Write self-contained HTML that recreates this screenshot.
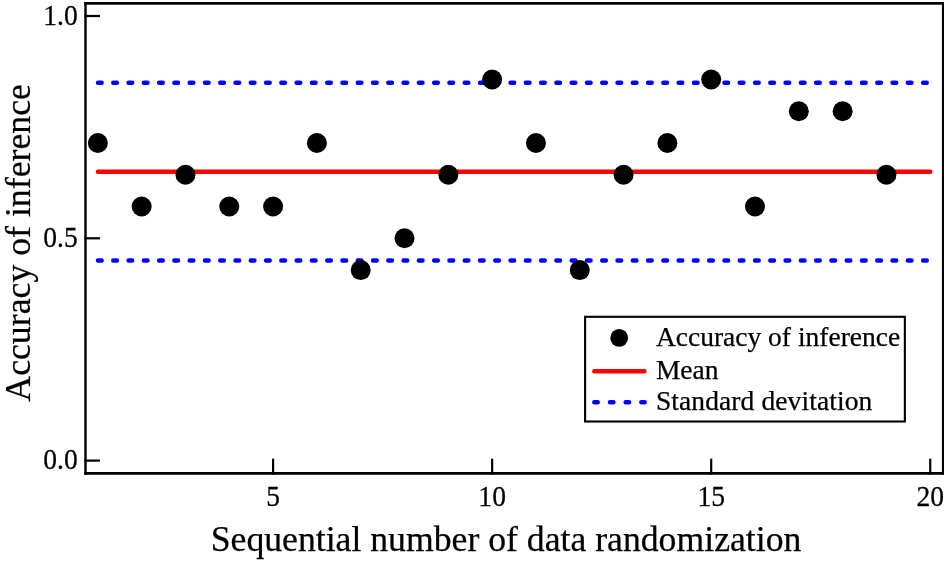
<!DOCTYPE html>
<html><head><meta charset="utf-8"><title>Accuracy of inference</title>
<style>
html,body{margin:0;padding:0;background:#fff;}
body{width:944px;height:562px;overflow:hidden;}
svg{display:block;}
text{font-family:"Liberation Serif","Times New Roman",serif;fill:#000;}
</style></head><body>
<svg width="944" height="562" viewBox="0 0 944 562">
<rect x="0" y="0" width="944" height="562" fill="#fff"/>
<line x1="98.00" y1="82.69" x2="930.24" y2="82.69" stroke="#0000ff" stroke-width="4.5" stroke-linecap="round" stroke-dasharray="3.6 11.68"/>
<line x1="98.00" y1="260.53" x2="930.24" y2="260.53" stroke="#0000ff" stroke-width="4.5" stroke-linecap="round" stroke-dasharray="3.6 11.68"/>
<line x1="98.00" y1="171.85" x2="930.24" y2="171.85" stroke="#ff0000" stroke-width="4.5" stroke-linecap="round"/>
<circle cx="97.85" cy="143.03" r="10" fill="#000"/>
<circle cx="141.66" cy="206.54" r="10" fill="#000"/>
<circle cx="185.47" cy="174.79" r="10" fill="#000"/>
<circle cx="229.28" cy="206.54" r="10" fill="#000"/>
<circle cx="273.09" cy="206.54" r="10" fill="#000"/>
<circle cx="316.90" cy="143.03" r="10" fill="#000"/>
<circle cx="360.71" cy="270.06" r="10" fill="#000"/>
<circle cx="404.52" cy="238.30" r="10" fill="#000"/>
<circle cx="448.33" cy="174.79" r="10" fill="#000"/>
<circle cx="492.14" cy="79.51" r="10" fill="#000"/>
<circle cx="535.95" cy="143.03" r="10" fill="#000"/>
<circle cx="579.76" cy="270.06" r="10" fill="#000"/>
<circle cx="623.57" cy="174.79" r="10" fill="#000"/>
<circle cx="667.38" cy="143.03" r="10" fill="#000"/>
<circle cx="711.19" cy="79.51" r="10" fill="#000"/>
<circle cx="755.00" cy="206.54" r="10" fill="#000"/>
<circle cx="798.81" cy="111.27" r="10" fill="#000"/>
<circle cx="842.62" cy="111.27" r="10" fill="#000"/>
<circle cx="886.43" cy="174.79" r="10" fill="#000"/>
<line x1="84.3" y1="3.4" x2="944" y2="3.4" stroke="#000" stroke-width="2.6"/>
<line x1="84.3" y1="473.35" x2="944" y2="473.35" stroke="#000" stroke-width="2.7"/>
<line x1="85.5" y1="2.1" x2="85.5" y2="474.7" stroke="#000" stroke-width="2.4"/>
<line x1="943.1" y1="2.1" x2="943.1" y2="474.7" stroke="#000" stroke-width="2.4"/>
<line x1="84.3" y1="16.00" x2="100" y2="16.00" stroke="#000" stroke-width="2.2"/>
<text transform="translate(77.80,24.70) scale(1,1.035)" font-size="27.6" text-anchor="end" stroke="#000" stroke-width="0.25">1.0</text>
<line x1="84.3" y1="238.30" x2="100" y2="238.30" stroke="#000" stroke-width="2.2"/>
<text transform="translate(77.80,247.00) scale(1,1.035)" font-size="27.6" text-anchor="end" stroke="#000" stroke-width="0.25">0.5</text>
<line x1="84.3" y1="460.60" x2="100" y2="460.60" stroke="#000" stroke-width="2.2"/>
<text transform="translate(77.80,469.30) scale(1,1.035)" font-size="27.6" text-anchor="end" stroke="#000" stroke-width="0.25">0.0</text>
<line x1="273.09" y1="458.7" x2="273.09" y2="474.6" stroke="#000" stroke-width="2.2"/>
<text transform="translate(273.09,506.00) scale(1,1.035)" font-size="27.6" text-anchor="middle" stroke="#000" stroke-width="0.25">5</text>
<line x1="492.14" y1="458.7" x2="492.14" y2="474.6" stroke="#000" stroke-width="2.2"/>
<text transform="translate(492.14,506.00) scale(1,1.035)" font-size="27.6" text-anchor="middle" stroke="#000" stroke-width="0.25">10</text>
<line x1="711.19" y1="458.7" x2="711.19" y2="474.6" stroke="#000" stroke-width="2.2"/>
<text transform="translate(711.19,506.00) scale(1,1.035)" font-size="27.6" text-anchor="middle" stroke="#000" stroke-width="0.25">15</text>
<line x1="930.24" y1="458.7" x2="930.24" y2="474.6" stroke="#000" stroke-width="2.2"/>
<text transform="translate(930.24,506.00) scale(1,1.035)" font-size="27.6" text-anchor="middle" stroke="#000" stroke-width="0.25">20</text>
<text transform="translate(506.00,550.50) scale(1,1.0)" font-size="35.7" text-anchor="middle" stroke="#000" stroke-width="0.25">Sequential number of data randomization</text>
<text transform="translate(30.10,242.90) rotate(-90) scale(1,1.0)" font-size="35.76" text-anchor="middle" stroke="#000" stroke-width="0.25">Accuracy of inference</text>
<rect x="585.1" y="316.8" width="319.75" height="104.70" fill="#fff" stroke="#000" stroke-width="2.1"/>
<circle cx="619.2" cy="337.9" r="8.9" fill="#000"/>
<line x1="594.4" y1="371.2" x2="644.3" y2="371.2" stroke="#ff0000" stroke-width="4.5" stroke-linecap="round"/>
<line x1="594.3" y1="402.3" x2="645.0" y2="402.3" stroke="#0000ff" stroke-width="4.5" stroke-linecap="round" stroke-dasharray="3.4 12.28"/>
<text transform="translate(655.90,345.70) scale(1,1.0)" font-size="27.5" text-anchor="start" stroke="#000" stroke-width="0.25">Accuracy of inference</text>
<text transform="translate(655.90,378.60) scale(1,1.0)" font-size="27.5" text-anchor="start" stroke="#000" stroke-width="0.25">Mean</text>
<text letter-spacing="0.1" transform="translate(655.90,409.60) scale(1,1.0)" font-size="27.5" text-anchor="start" stroke="#000" stroke-width="0.25">Standard devitation</text>
</svg>
</body></html>
